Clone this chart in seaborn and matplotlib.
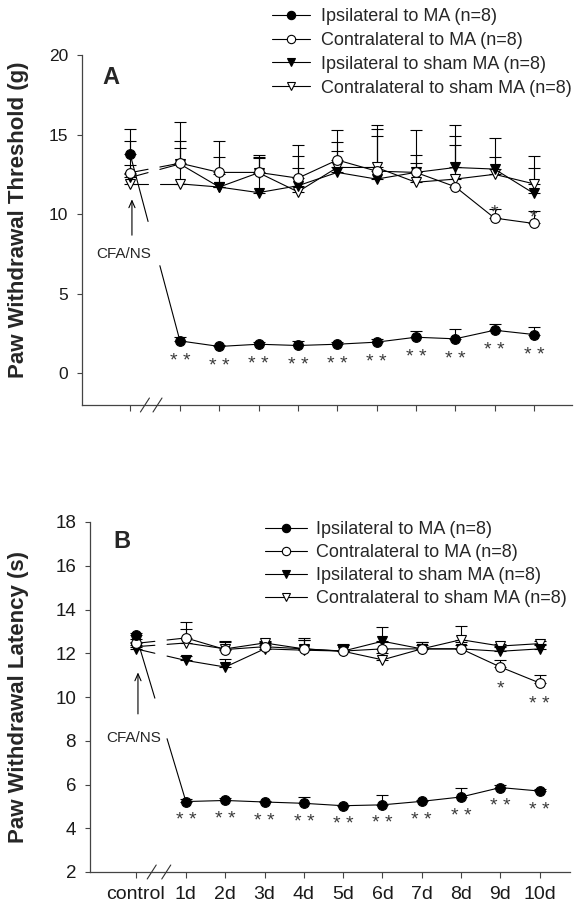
import numpy as np
import matplotlib
matplotlib.use("Agg")
import matplotlib.pyplot as plt
from matplotlib.lines import Line2D
import matplotlib.transforms as mtransforms
import seaborn as sns

sns.set_style("white")
plt.rcParams['font.family'] = ['Liberation Sans', 'DejaVu Sans']

# ---------------- data ----------------
time_labels = ['control', '1d', '2d', '3d', '4d', '5d', '6d', '7d', '8d', '9d', '10d']
series_names = ['Ipsilateral to MA (n=8)', 'Contralateral to MA (n=8)',
                'Ipsilateral to sham MA (n=8)', 'Contralateral to sham MA (n=8)']

# Panel A: paw withdrawal threshold (g), mean and upper SEM
A_ipsi_ma = [13.8, 2.03, 1.68, 1.82, 1.74, 1.82, 1.95, 2.26, 2.16, 2.70, 2.43]
A_ipsi_ma_err = [1.55, 0.27, 0.10, 0.12, 0.30, 0.12, 0.20, 0.36, 0.60, 0.42, 0.46]
A_contra_ma = [12.6, 13.2, 12.62, 12.62, 12.26, 13.4, 12.7, 12.62, 11.72, 9.75, 9.41]
A_contra_ma_err = [2.0, 2.6, 2.0, 1.1, 2.1, 1.9, 2.65, 2.66, 2.64, 0.55, 0.8]
A_ipsi_sham = [12.3, 13.15, 11.7, 11.35, 11.78, 12.62, 12.2, 12.62, 12.93, 12.83, 11.3]
A_ipsi_sham_err = [0.8, 1.47, 0.8, 2.2, 1.9, 1.32, 2.7, 1.08, 2.67, 1.97, 1.57]
A_contra_sham = [11.9, 11.9, 11.7, 12.6, 11.4, 12.93, 12.93, 12.0, 12.2, 12.5, 11.9]
A_contra_sham_err = [0.6, 2.25, 1.86, 1.0, 1.5, 1.57, 2.67, 1.2, 2.7, 1.06, 1.77]
A_sig_ipsi_ma = ['', '**', '**', '**', '**', '**', '**', '**', '**', '**', '**']
A_sig_contra_ma = ['', '', '', '', '', '', '', '', '', '*', '*']

# Panel B: paw withdrawal latency (s), mean and upper SEM
B_ipsi_ma = [12.82, 5.22, 5.27, 5.20, 5.14, 5.03, 5.07, 5.23, 5.43, 5.86, 5.70]
B_ipsi_ma_err = [0.10, 0.10, 0.12, 0.05, 0.28, 0.05, 0.46, 0.05, 0.40, 0.12, 0.08]
B_contra_ma = [12.45, 12.7, 12.17, 12.3, 12.2, 12.1, 12.2, 12.2, 12.2, 11.37, 10.64]
B_contra_ma_err = [0.2, 0.72, 0.38, 0.2, 0.5, 0.3, 0.3, 0.3, 0.3, 0.30, 0.38]
B_ipsi_sham = [12.2, 11.67, 11.37, 12.2, 12.14, 12.1, 12.55, 12.2, 12.2, 12.09, 12.2]
B_ipsi_sham_err = [0.2, 0.2, 0.37, 0.2, 0.46, 0.3, 0.65, 0.2, 0.2, 0.2, 0.2]
B_contra_sham = [12.3, 12.47, 12.2, 12.47, 12.2, 12.09, 11.7, 12.2, 12.62, 12.33, 12.44]
B_contra_sham_err = [0.2, 0.66, 0.3, 0.1, 0.4, 0.35, 0.3, 0.3, 0.61, 0.1, 0.1]
B_sig_ipsi_ma = ['', '**', '**', '**', '**', '**', '**', '**', '**', '**', '**']
B_sig_contra_ma = ['', '', '', '', '', '', '', '', '', '*', '**']

# ---------------- layout ----------------
W, H = 584, 917
fig = plt.figure(figsize=(W / 100, H / 100), dpi=100)
axA = fig.add_axes([82 / W, 1 - 405 / H, 490 / W, 350 / H])
axB = fig.add_axes([90 / W, 1 - 872 / H, 480 / W, 350 / H])

# x positions: control, then a broken axis gap, then days
xpos = np.array([0.0] + [i + 0.27 for i in range(1, len(time_labels))])

styles = [dict(marker='o', mfc='black', ms=7.0),
          dict(marker='o', mfc='white', ms=7.0),
          dict(marker='v', mfc='black', ms=7.5),
          dict(marker='v', mfc='white', ms=7.5)]
LW = 0.8


def fmt_star(s):
    return ' '.join(list(s))


def draw_panel(ax, vals_list, err_list, gap):
    for k, (vals, err, st) in enumerate(zip(vals_list, err_list, styles)):
        vals = np.asarray(vals, float)
        err = np.asarray(err, float)
        ax.errorbar(xpos, vals, yerr=[np.zeros_like(err), err], fmt='none',
                    ecolor='black', elinewidth=LW, capsize=4.2, capthick=LW, zorder=2)
        sns.lineplot(x=xpos[1:], y=vals[1:], ax=ax, color='black', lw=LW,
                     marker=st['marker'], markersize=st['ms'], markerfacecolor=st['mfc'],
                     markeredgecolor='black', markeredgewidth=LW, zorder=4 - k * 0.1,
                     legend=False, errorbar=None, sort=False)
        ax.plot(xpos[:1], vals[:1], ls='none', marker=st['marker'], ms=st['ms'],
                mfc=st['mfc'], mec='black', mew=LW, zorder=4 - k * 0.1)
        g0, g1 = gap
        y0 = np.interp(g0, xpos[:2], vals[:2])
        y1 = np.interp(g1, xpos[:2], vals[:2])
        ax.plot([xpos[0], g0], [vals[0], y0], color='black', lw=LW, zorder=3)
        ax.plot([g1, xpos[1]], [y1, vals[1]], color='black', lw=LW, zorder=3)


def stars(ax, vals, sig, dy_pt, fs=14):
    for x, v, s in zip(xpos, vals, sig):
        if s:
            ax.annotate(fmt_star(s), xy=(x, v), xytext=(0, dy_pt), textcoords='offset points',
                        ha='center', va='baseline', fontsize=fs, color='#3a3a3a', zorder=6)


def style_axis(ax, xlim, ylim, yticks, ytick_fs, show_xlabels):
    ax.set_xlim(*xlim)
    ax.set_ylim(*ylim)
    ax.set_yticks(yticks)
    ax.set_xticks(xpos)
    if show_xlabels:
        ax.set_xticklabels(time_labels, fontsize=14, color='#1a1a1a')
    else:
        ax.set_xticklabels([])
    ax.tick_params(axis='y', labelsize=ytick_fs, labelcolor='#1a1a1a', direction='out',
                   length=3.5, width=0.8, pad=6.5, left=True, color='#444444')
    ax.tick_params(axis='x', direction='out', length=4, width=0.8, pad=6,
                   bottom=True, color='#444444')
    for sp in ['top', 'right']:
        ax.spines[sp].set_visible(False)
    for sp in ['left', 'bottom']:
        ax.spines[sp].set_color('#444444')
        ax.spines[sp].set_linewidth(0.9)
    ax.set_xlabel('')
    ax.set_ylabel('')


def break_marks(ax, centers, unit_px):
    trans = mtransforms.blended_transform_factory(ax.transData, ax.transAxes)
    hx = 4.5 / unit_px
    hy = 7.0 / 350
    for c in centers:
        ax.plot([c - hx, c + hx], [-hy, hy], color='#333333', lw=0.8,
                transform=trans, clip_on=False, zorder=5)


# ---------------- Panel A ----------------
A_vals = [A_ipsi_ma, A_contra_ma, A_ipsi_sham, A_contra_sham]
A_errs = [A_ipsi_ma_err, A_contra_ma_err, A_ipsi_sham_err, A_contra_sham_err]
draw_panel(axA, A_vals, A_errs, gap=(0.46, 0.76))
style_axis(axA, (-1.22, 11.24), (-2, 20), [0, 5, 10, 15, 20], 12.5, False)
stars(axA, A_ipsi_ma, A_sig_ipsi_ma, -18)
stars(axA, A_contra_ma, A_sig_contra_ma, 0.5)
break_marks(axA, [0.38, 0.70], 39.33)
axA.annotate('', xy=(0.05, 11.1), xytext=(0.05, 8.5),
             arrowprops=dict(arrowstyle='->,head_length=0.5,head_width=0.22', lw=0.8, color='black'))
axA.text(-0.17, 7.5, 'CFA/NS', fontsize=11, ha='center', va='center')

# ---------------- Panel B ----------------
B_vals = [B_ipsi_ma, B_contra_ma, B_ipsi_sham, B_contra_sham]
B_errs = [B_ipsi_ma_err, B_contra_ma_err, B_ipsi_sham_err, B_contra_sham_err]
draw_panel(axB, B_vals, B_errs, gap=(0.48, 0.79))
style_axis(axB, (-1.17, 11.04), (2, 18), list(range(2, 19, 2)), 13.5, True)
stars(axB, B_ipsi_ma, B_sig_ipsi_ma, -17)
stars(axB, B_contra_ma, B_sig_contra_ma, -19)
break_marks(axB, [0.40, 0.77], 39.3)
axB.annotate('', xy=(0.05, 11.25), xytext=(0.05, 9.1),
             arrowprops=dict(arrowstyle='->,head_length=0.5,head_width=0.22', lw=0.8, color='black'))
axB.text(-0.05, 8.14, 'CFA/NS', fontsize=11, ha='center', va='center')

# ---------------- legends ----------------
handles = [Line2D([0], [0], color='black', lw=LW, marker=st['marker'], ms=6.0,
                  mfc=st['mfc'], mec='black', mew=LW) for st in styles]
axA.legend(handles, series_names, loc='upper left', bbox_to_anchor=(272 / W, 1 - 8 / H),
           bbox_transform=fig.transFigure, frameon=False, fontsize=13, handlelength=2.1,
           handletextpad=0.6, labelspacing=0.38, borderpad=0, borderaxespad=0)
axB.legend(handles, series_names, loc='upper left', bbox_to_anchor=(265 / W, 1 - 521 / H),
           bbox_transform=fig.transFigure, frameon=False, fontsize=13, handlelength=2.3,
           handletextpad=0.5, labelspacing=0.33, borderpad=0, borderaxespad=0)

# ---------------- labels ----------------
fig.text(111 / W, 1 - 77 / H, 'A', fontsize=17, weight='bold', ha='center', va='center')
fig.text(122 / W, 1 - 542 / H, 'B', fontsize=17, weight='bold', ha='center', va='center')
fig.text(19 / W, 1 - 220 / H, 'Paw Withdrawal Threshold (g)', rotation=90, fontsize=16,
         weight='bold', ha='center', va='center')
fig.text(19 / W, 1 - 697 / H, 'Paw Withdrawal Latency (s)', rotation=90, fontsize=16,
         weight='bold', ha='center', va='center')

fig.savefig('out.png', dpi=100, facecolor='white')
